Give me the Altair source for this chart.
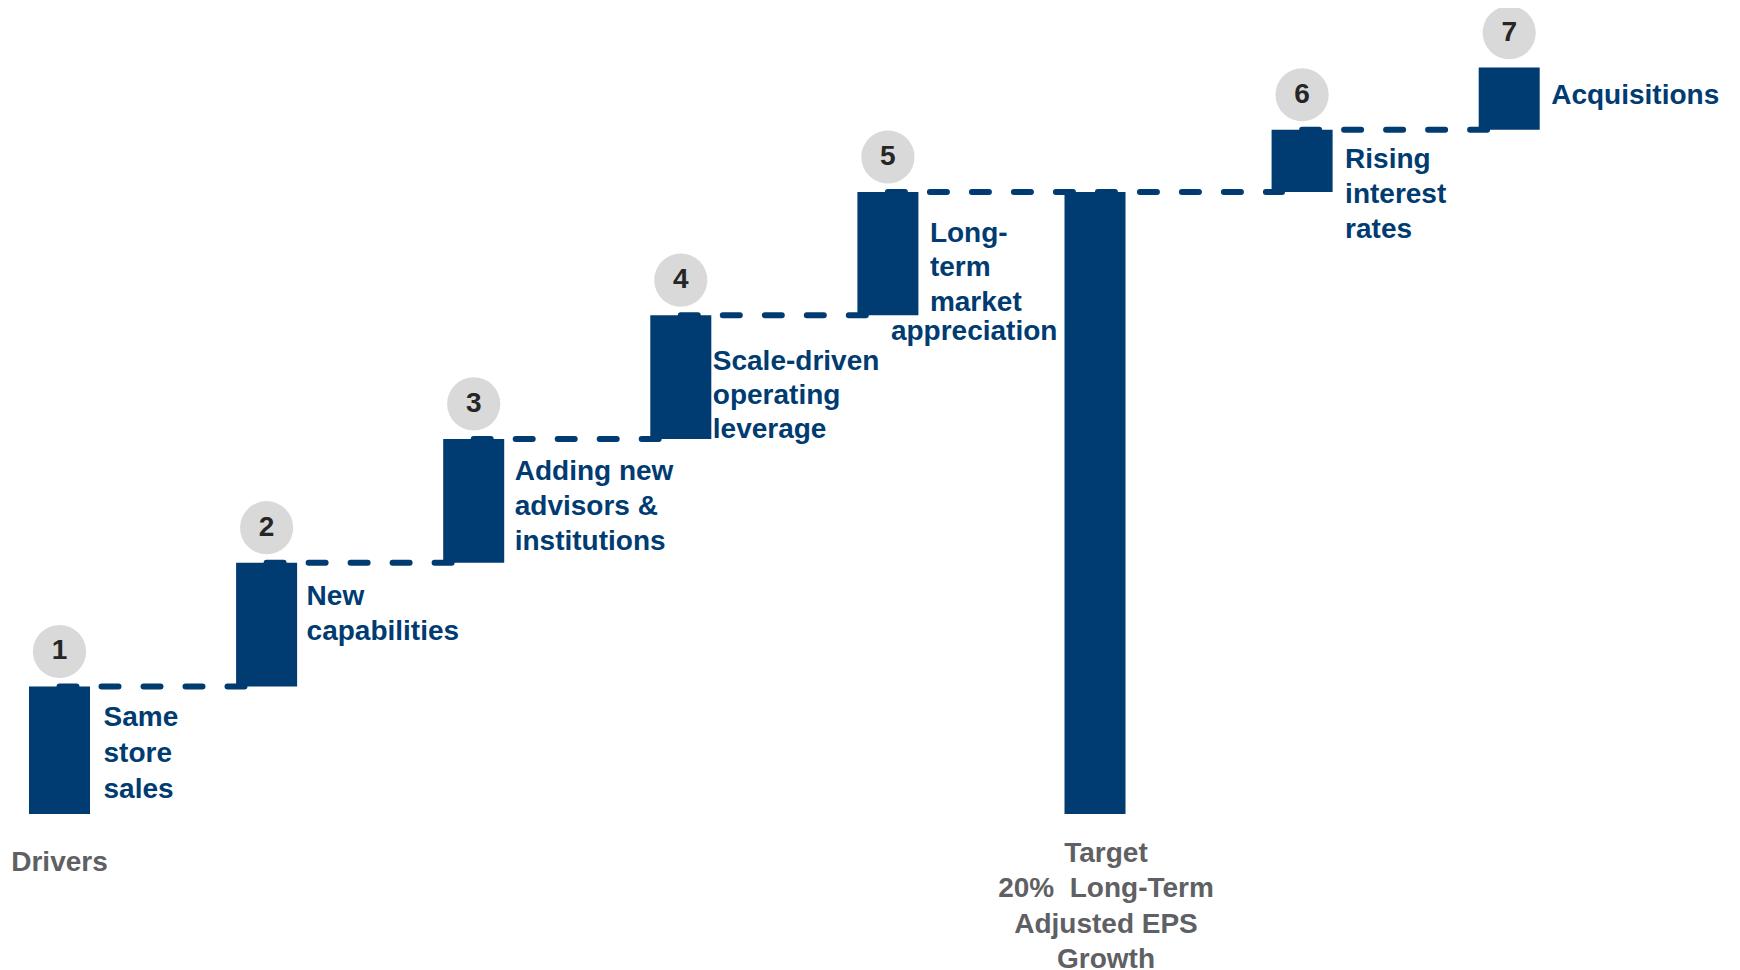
import altair as alt
import pandas as pd

# ---------------- data ----------------
numbers = ["1", "2", "3", "4", "5", "", "6", "7"]
labels = [
    "Same\nstore\nsales",
    "New\ncapabilities",
    "Adding new\nadvisors &\ninstitutions",
    "Scale-driven\noperating\nleverage",
    "Long-\nterm\nmarket",
    "",
    "Rising\ninterest\nrates",
    "Acquisitions",
]
extra_line = ["", "", "", "", "appreciation", "", "", ""]
values = [4.1, 3.98, 3.98, 3.98, 3.96, 20, 2, 2]
kinds = ["step", "step", "step", "step", "step", "total", "step", "step"]
bottom_labels = ["Drivers", "", "", "", "", "Target\n20%\u00a0 Long-Term\nAdjusted EPS\nGrowth", "", ""]

NAVY = "#003B71"
GREY_CIRCLE = "#D9D9D9"
GREY_TEXT = "#5F6064"
FONT = "Liberation Sans"

# ---------------- build table ----------------
rows = []
cum = 0.0
for i, (n, lab, v, k) in enumerate(zip(numbers, labels, values, kinds)):
    if k == "total":
        start, end = 0.0, v
    else:
        start, end = cum, cum + v
        cum = end
    rows.append(dict(idx=i, num=n, label=lab, extra=extra_line[i], start=start, end=end,
                     kind=k, bottom=bottom_labels[i]))
df = pd.DataFrame(rows)

HALF = 0.1473  # half bar width in x units
df["x0"] = df["idx"] - HALF
df["x1"] = df["idx"] + HALF

# connectors between consecutive step bars
steps = df[df["kind"] == "step"].reset_index(drop=True)
conn = pd.DataFrame({
    "xa": steps["idx"][:-1].values,
    "xb": steps["idx"][1:].values - 0.097,
    "y": steps["end"][:-1].values,
})

xs = alt.Scale(domain=[-0.2487, 8.0758], nice=False, zero=False)
ys = alt.Scale(domain=[-4.952, 25.916], nice=False, zero=False)

base = alt.Chart(df)

bars = base.mark_bar(color=NAVY).encode(
    x=alt.X("x0:Q", scale=xs, axis=None),
    x2="x1:Q",
    y=alt.Y("start:Q", scale=ys, axis=None),
    y2="end:Q",
)

rules = alt.Chart(conn).mark_rule(
    color=NAVY, strokeWidth=6, strokeDash=[17, 25], strokeCap="round"
).encode(
    x=alt.X("xa:Q", scale=xs, axis=None),
    x2="xb:Q",
    y=alt.Y("y:Q", scale=ys, axis=None),
)

step_base = base.transform_filter("datum.kind == 'step'")

circles = step_base.mark_circle(size=2830, color=GREY_CIRCLE, opacity=1, yOffset=-35).encode(
    x=alt.X("idx:Q", scale=xs, axis=None),
    y=alt.Y("end:Q", scale=ys, axis=None),
)

nums = step_base.mark_text(
    font=FONT, fontSize=28, fontWeight="bold", color="#262626",
    align="center", baseline="middle", yOffset=-35,
).encode(
    x=alt.X("idx:Q", scale=xs, axis=None),
    y=alt.Y("end:Q", scale=ys, axis=None),
    text="num:N",
)

# label placement (dx, dy, lineHeight) per bar
label_layout = {
    0: (44, 18, 36),
    1: (40, 20, 35),
    2: (41, 19, 35),
    3: (32, 33, 34),
    4: (42, 28, 34.5),
    6: (43, 16, 35),
    7: (42, 14, 35),
}

label_layers = []
for i, (dx, dy, lh) in label_layout.items():
    label_layers.append(
        base.transform_filter(f"datum.idx == {i}").mark_text(
            font=FONT, fontSize=28, fontWeight="bold", color=NAVY,
            align="left", baseline="top", dx=dx, dy=dy, lineBreak="\n", lineHeight=lh,
        ).encode(
            x=alt.X("idx:Q", scale=xs, axis=None),
            y=alt.Y("end:Q", scale=ys, axis=None),
            text="label:N",
        )
    )

extra = base.transform_filter("datum.extra != ''").mark_text(
    font=FONT, fontSize=28, fontWeight="bold", color=NAVY,
    align="left", baseline="top", dx=3, dy=126,
).encode(
    x=alt.X("idx:Q", scale=xs, axis=None),
    y=alt.Y("end:Q", scale=ys, axis=None),
    text="extra:N",
)

drivers_txt = base.transform_filter("datum.idx == 0").mark_text(
    font=FONT, fontSize=28, fontWeight="bold", color=GREY_TEXT,
    align="center", baseline="top", dy=35, lineBreak="\n",
).encode(
    x=alt.X("idx:Q", scale=xs, axis=None),
    y=alt.Y("start:Q", scale=ys, axis=None),
    text="bottom:N",
)

target_txt = base.transform_filter("datum.kind == 'total'").mark_text(
    font=FONT, fontSize=28, fontWeight="bold", color=GREY_TEXT,
    align="center", baseline="top", dx=11, dy=26, lineBreak="\n", lineHeight=35.5,
).encode(
    x=alt.X("idx:Q", scale=xs, axis=None),
    y=alt.Y("start:Q", scale=ys, axis=None),
    text="bottom:N",
)

chart = alt.layer(
    bars, rules, circles, nums, *label_layers, extra, drivers_txt, target_txt
).properties(
    width=1724, height=960,
    autosize=alt.AutoSizeParams(type="none"),
    padding=0,
).configure_view(stroke=None)

chart.save("out.html", embed_options={"renderer": "svg", "actions": False})
